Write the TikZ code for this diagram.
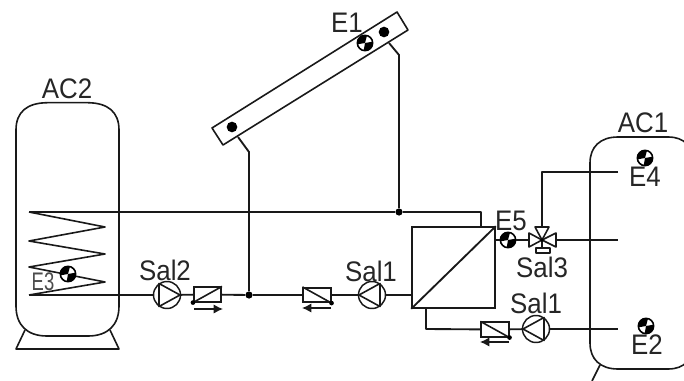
\documentclass[tikz,border=0pt]{standalone}
\usepackage{fontspec}
\setmainfont{Liberation Sans}
\usetikzlibrary{arrows.meta}
\tikzset{
  pipe/.style={line width=1.4pt,draw=black!90,line join=round},
  thin pipe/.style={line width=1.2pt,draw=black!90,line join=round},
  lab/.style={inner sep=0pt,text=black!85,xscale=.97,yscale=1.06,font=\fontsize{20}{20}\selectfont},
  pumpnode/.style={circle,draw=black!90,line width=1.1pt,minimum size=20.25pt,inner sep=0pt},
  valvebox/.style={rectangle,draw=black!90,line width=1.3pt,minimum width=20.5pt,minimum height=10.8pt,inner sep=0pt},
  sensornode/.style={circle,draw=black,line width=1.2pt,minimum size=11.5pt,inner sep=0pt,fill=white,
    path picture={
      \fill[black] (path picture bounding box.center) -- ++(75:8pt) arc (75:190:8pt) -- cycle;
      \fill[black] (path picture bounding box.center) -- ++(-100:8pt) arc (-100:10:8pt) -- cycle;
    }},
  dotnode/.style={circle,fill=black,inner sep=0pt,minimum size=5.4pt},
  bigdot/.style={circle,fill=black,inner sep=0pt,minimum size=8pt},
  flow/.style={line width=1.1pt,draw=black!90,-{Latex[length=7pt,width=7pt]}},
}
\begin{document}
\begin{tikzpicture}[x=0.75pt,y=-0.75pt]
\useasboundingbox (0,0) rectangle (684,381);
\clip (0,0) rectangle (684,381);
% tanks
\draw[thin pipe] (16,130) .. controls (16,112) and (27,103) .. (47,102.7) -- (88,102.7) .. controls (108,103) and (119,112) .. (119,130)
  -- (119,306) .. controls (119,325) and (108,336) .. (88,336) -- (47,336) .. controls (27,336) and (16,325) .. (16,306) -- cycle;
\draw[thin pipe] (25,330) -- (16,349) -- (119,349) -- (110,330);
\draw[thin pipe] (590,163) .. controls (590,147) and (600,137) .. (618,137) -- (668,137) .. controls (685,137) and (693,147) .. (693,163)
  -- (693,343) .. controls (693,359) and (685,369) .. (668,369) -- (618,369) .. controls (600,369) and (590,359) .. (590,343) -- cycle;
\draw[thin pipe] (600,365) -- (592,381);
% heat exchanger coil
\coordinate (coilA) at (29,212);
\coordinate (coilB) at (29,295);
\draw[thin pipe] (coilA) -- (105,227) -- (29,241) -- (105,254) -- (29,267) -- (105,282) -- (coilB);
% collector
\draw[thin pipe] (212,128) -- (223,145) -- (408,30) -- (397,12) -- cycle;
\node[bigdot] (colL) at (232,127) {};
\node[bigdot] (colR) at (384,32) {};
% main nodes
\node[rectangle,draw=black!90,line width=1.2pt,minimum width=62.25pt,minimum height=60.75pt,inner sep=0pt] (hx) at (453.5,267.5) {};
\node[pumpnode] (p2) at (167,295) {};
\node[pumpnode] (p1) at (372,295) {};
\node[pumpnode] (p3) at (536,329) {};
\node[valvebox] (v2) at (207.5,294.5) {};
\node[valvebox] (v1) at (317,295) {};
\node[valvebox] (v3) at (495,329.5) {};
\node[dotnode] (j1) at (249,295) {};
\node[dotnode] (j2) at (399,212) {};
\coordinate (vc) at (542,240);
\coordinate (vT) at (542,227);
\coordinate (vL) at (529,240);
\coordinate (vR) at (556,240);
\node[sensornode] (s5) at (508,240) {};
\coordinate (t1) at (618,172);
\coordinate (t2) at (618,240);
\coordinate (t3) at (618,329);
% pipes
\draw[pipe] (coilA) -- (j2) -- (481,212) -- (481,227);
\draw[pipe] (coilB) -- (p2);
\draw[pipe] (p2) -- (v2);
\draw[pipe] (v2) -- (j1);
\draw[pipe] (j1) -- (v1);
\draw[pipe] (v1) -- (p1);
\draw[pipe] (p1) -- (412,295);
\draw[pipe] (j1) -- (249,152) -- (238,137);
\draw[pipe] (j2) -- (399,55) -- (389,43);
\draw[pipe] (426,308) -- (426,329) -- (v3);
\draw[pipe] (v3) -- (p3);
\draw[pipe] (p3) -- (t3);
\draw[pipe] (495,240) -- (s5);
\draw[pipe] (s5) -- (vL);
\draw[pipe] (vR) -- (t2);
\draw[pipe] (t1) -- (542,172) -- (vT);
% exchanger diagonal
\draw[pipe] (hx.south west) -- (hx.north east);
% pump triangles
\draw[thin pipe] (159,283.5) -- (180,295) -- (159,306.5) -- cycle;
\draw[thin pipe] (380,283.5) -- (359,295) -- (380,306.5) -- cycle;
\draw[thin pipe] (544,317.5) -- (523,329) -- (544,340.5) -- cycle;
% check valve diagonals
\draw[thin pipe] (v2.south west) -- (v2.north east);
\node[circle,fill=black,inner sep=0pt,minimum size=3.5pt] at (v2.south west) {};
\draw[thin pipe] (v1.north west) -- (v1.south east);
\node[circle,fill=black,inner sep=0pt,minimum size=3.5pt] at (v1.south east) {};
\draw[thin pipe] (v3.north west) -- (v3.south east);
\node[circle,fill=black,inner sep=0pt,minimum size=3.5pt] at (v3.south east) {};
% flow arrows
\draw[flow] (194,309) -- (223,309);
\draw[flow] (331,308) -- (302,308);
\draw[flow] (509,342) -- (480,342);
% three-way valve
\draw[thin pipe,fill=white] (vc) -- (535,227) -- (549,227) -- cycle;
\draw[thin pipe,fill=white] (vc) -- (529,233) -- (529,247) -- cycle;
\draw[thin pipe,fill=white] (vc) -- (556,233) -- (556,247) -- cycle;
\draw[thin pipe] (vc) -- (542,248);
\draw[thin pipe,fill=white] (536,248) rectangle (550,253);
\fill[black] (vc) circle (1.8);
% sensors
\node[sensornode] (s1) at (365,43) {};
\node[sensornode] (s3) at (68,274) {};
\node[sensornode] (s4) at (645,158) {};
\node[sensornode] (s2) at (646,326) {};
% labels
\node[lab] (lAC2) at (67,89) {AC2};
\node[lab] (lAC1) at (643,123) {AC1};
\node[lab] (lE1) at (347,23) {E1};
\node[lab] (lE4) at (645,177) {E4};
\node[lab] (lE2) at (647,345) {E2};
\node[lab] (lE5) at (511,221) {E5};
\node[lab] (lS2) at (165,270) {Sal2};
\node[lab] (lS1) at (371,271) {Sal1};
\node[lab] (lS1b) at (536,303) {Sal1};
\node[lab] (lS3) at (542,267) {Sal3};
\node[lab,text=black!70,font=\fontsize{15}{15}\selectfont,xscale=.95,yscale=1.2] (lE3) at (43,282) {E3};
\end{tikzpicture}
\end{document}
